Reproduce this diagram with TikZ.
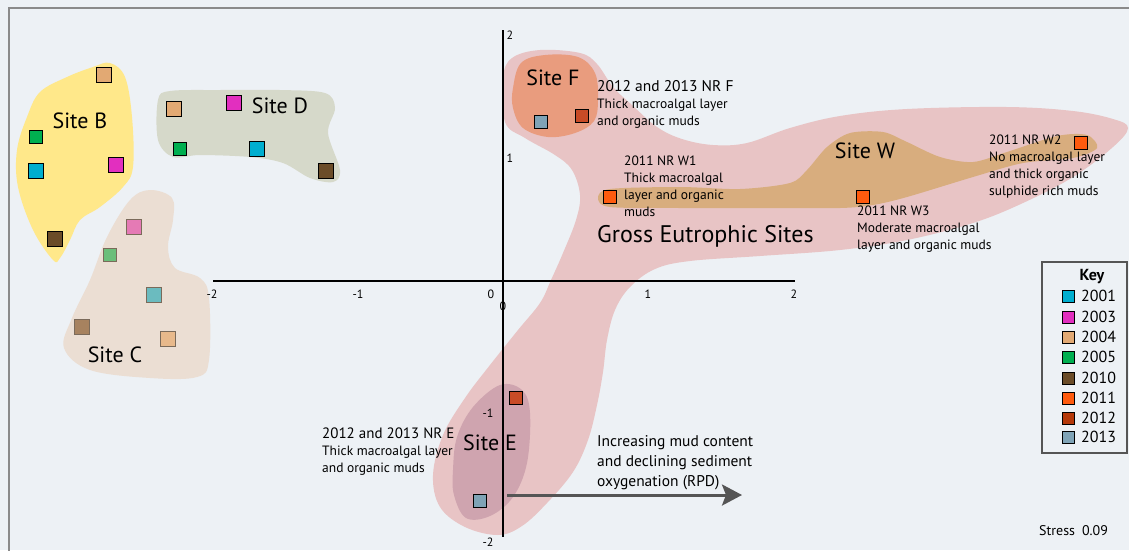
\documentclass[tikz,border=0pt]{standalone}
\usepackage{fontspec}
\setmainfont{PT Sans}
\usetikzlibrary{arrows.meta}
\definecolor{bgc}{HTML}{EDF1F5}
\definecolor{frm}{HTML}{8A8A8A}
\definecolor{blobB}{HTML}{FFE88A}
\definecolor{blobD}{HTML}{D6D9CA}
\definecolor{blobC}{HTML}{EBDED3}
\definecolor{blobG}{HTML}{E8C4C5}
\definecolor{blobF}{HTML}{E99C7E}
\definecolor{blobW}{HTML}{D8AD7E}
\definecolor{blobE}{HTML}{CFA4AF}
\definecolor{cA}{HTML}{00AECF}
\definecolor{cB}{HTML}{E22FBF}
\definecolor{cC}{HTML}{E2A973}
\definecolor{cD}{HTML}{00AF50}
\definecolor{cE}{HTML}{6B4C28}
\definecolor{cF}{HTML}{FF5B0E}
\definecolor{cG}{HTML}{C84B26}
\definecolor{cGk}{HTML}{B5390A}
\definecolor{cH}{HTML}{7FA3B6}
\definecolor{fA}{HTML}{6BBBBF}
\definecolor{fB}{HTML}{E57AB5}
\definecolor{fC}{HTML}{E8B98B}
\definecolor{fD}{HTML}{6BBE7A}
\definecolor{fE}{HTML}{A7825F}
\definecolor{fbord}{HTML}{7A6A5A}
\definecolor{arr}{HTML}{555555}
\tikzset{
  sq/.style={draw=black, line width=1.1pt, minimum size=15pt, inner sep=0pt, outer sep=0pt},
  sqs/.style={sq, minimum size=13pt},
  fsq/.style={draw=fbord, line width=1.1pt, minimum size=15pt, inner sep=0pt, outer sep=0pt},
  ksq/.style={draw=black, line width=0.9pt, minimum size=12pt, inner sep=0pt},
  site/.style={font=\fontsize{22}{24}\selectfont, inner sep=0pt},
  note/.style={font=\fontsize{13.5}{17}\selectfont, align=left, inner sep=0pt, anchor=north west},
  tick/.style={font=\fontsize{12}{14}\selectfont, inner sep=0pt},
  keytxt/.style={font=\fontsize{16}{18}\selectfont, inner sep=0pt, anchor=west}
}
\begin{document}
\begin{tikzpicture}[x=1pt,y=-1pt]
\useasboundingbox (0,0) rectangle (1129,550);
\fill[bgc] (0,0) rectangle (1129,550);
\draw[frm, line width=1.5pt] (9,560) -- (9,8) -- (1140,8);

% Gross eutrophic blob
\fill[blobG] plot[smooth cycle, tension=0.6] coordinates {
 (503,78) (512,58) (540,50) (580,53) (597,64) (613,87) (632,105) (657,127) (682,139) (713,145) (747,143)
 (790,128) (840,116) (907,109) (1007,107) (1073,111) (1113,119) (1128,128) (1113,147)
 (1073,177) (1023,203) (973,223) (907,240) (840,250) (760,256) (690,261) (655,269)
 (630,287) (615,310) (607,340) (603,372) (597,405) (588,440) (573,472) (547,503) (522,526) (498,535)
 (465,527) (440,507) (433,475) (443,435) (465,398) (490,365) (518,330) (540,303)
 (551,280) (563,253) (576,220) (580,195) (572,170) (555,155) (525,138) (505,122)};
% Site F
\fill[blobF] plot[smooth cycle, tension=0.6] coordinates {
 (513,88) (521,63) (545,55) (578,57) (595,73) (598,100) (594,121) (575,133) (548,137) (523,128) (513,108)};
% Site W
\fill[blobW] plot[smooth cycle, tension=0.5] coordinates {
 (598,198) (610,189) (680,187) (740,189) (790,183) (807,170) (827,147) (850,133) (883,132)
 (907,142) (940,157) (973,162) (1007,152) (1057,136) (1087,135) (1097,148) (1073,158)
 (1023,163) (973,177) (907,197) (873,205) (840,208) (760,208) (680,208) (610,207)};
% Site E
\fill[blobE] plot[smooth cycle, tension=0.6] coordinates {
 (500,385) (522,390) (530,413) (527,463) (513,497) (490,516) (466,518) (454,495) (453,470) (457,437) (473,407)};
% Site B
\fill[blobB] plot[smooth cycle, tension=0.6] coordinates {
 (110,63) (125,77) (132,117) (133,167) (123,187) (100,207) (80,220) (70,240) (60,258) (53,260)
 (33,230) (18,187) (17,150) (27,117) (40,92) (67,77) (93,67)};
% Site D
\fill[blobD] plot[smooth cycle, tension=0.55] coordinates {
 (158,100) (170,91) (220,90) (280,90) (325,93) (335,108) (328,133) (340,170) (333,182)
 (310,178) (283,163) (250,157) (200,155) (173,157) (158,140)};
% Site C
\fill[blobC] plot[smooth cycle, tension=0.6] coordinates {
 (150,190) (172,198) (173,220) (168,247) (175,268) (200,278) (209,298) (209,360) (197,377)
 (150,378) (90,370) (64,348) (72,318) (90,280) (107,237) (130,200)};

% axes
\coordinate (xl) at (213,281); \coordinate (xr) at (795,281);
\coordinate (yt) at (503,30); \coordinate (yb) at (503,537);
\draw[black, line width=2.6pt] (xl) -- (xr);
\draw[black, line width=1.4pt] (yt) -- (yb);
\node[tick] (tx1) at (212,294) {-2};
\node[tick] (tx2) at (358,294) {-1};
\node[tick] (tx3) at (491,294) {0};
\node[tick] (tx4) at (648,294) {1};
\node[tick] (tx5) at (794,294) {2};
\node[tick] (ty1) at (510,35) {2};
\node[tick] (ty2) at (510,158) {1};
\node[tick] (ty3) at (503,306) {0};
\node[tick] (ty4) at (488,413) {-1};
\node[tick] (ty5) at (488,542) {-2};

% site labels
\node[site] (lB) at (80,121) {Site B};
\node[site] (lD) at (280,106) {Site D};
\node[site] (lC) at (115,355) {Site C};
\node[site] (lF) at (553,78) {Site F};
\node[site] (lW) at (865,151) {Site W};
\node[site] (lE) at (490,443) {Site E};
\node[site, anchor=west, font=\fontsize{24}{26}\selectfont] (lG) at (597,236) {Gross Eutrophic Sites};

% squares site B
\node[sq, fill=cC] (b1) at (104,75) {};
\node[sqs, fill=cD] (b2) at (36,137) {};
\node[sq, fill=cA] (b3) at (36,171) {};
\node[sq, fill=cB] (b4) at (116,165) {};
\node[sq, fill=cE] (b5) at (55,239) {};
% site D
\node[sq, fill=cC] (d1) at (174,109) {};
\node[sq, fill=cB] (d2) at (234,103) {};
\node[sqs, fill=cD] (d3) at (180,149) {};
\node[sq, fill=cA] (d4) at (257,149) {};
\node[sq, fill=cE] (d5) at (326,171) {};
% site C
\node[fsq, fill=fB] (c1) at (134,227) {};
\node[fsq, fill=fD, minimum size=13pt] (c2) at (110,255) {};
\node[fsq, fill=fA] (c3) at (154,295) {};
\node[fsq, fill=fE] (c4) at (82,327) {};
\node[fsq, fill=fC] (c5) at (168,339) {};
% site F, W, E
\node[sqs, fill=cH] (f1) at (541,122) {};
\node[sqs, fill=cG] (f2) at (582,116) {};
\node[sqs, fill=cF] (w1) at (610,197) {};
\node[sqs, fill=cF] (w3) at (863,197) {};
\node[sqs, fill=cF] (w2) at (1081,143) {};
\node[sqs, fill=cG] (e1) at (516,398) {};
\node[sqs, fill=cH] (e2) at (480,501) {};

% notes
\node[note] (nF) at (597,80) {{\fontsize{15.5}{17}\selectfont 2012 and 2013 NR F}\\Thick macroalgal layer\\and organic muds};
\node[note] (nW1) at (624,156) {2011 NR W1\\Thick macroalgal\\layer and organic\\muds};
\node[note] (nW3) at (857,206) {2011 NR W3\\Moderate macroalgal\\layer and organic muds};
\node[note] (nW2) at (989,135) {2011 NR W2\\No macroalgal layer\\and thick organic\\sulphide rich muds};
\node[note] (nE) at (322,428) {{\fontsize{15}{17}\selectfont 2012 and 2013 NR E}\\Thick macroalgal layer\\and organic muds};
\node[note, font=\fontsize{15.5}{20}\selectfont] (nA) at (597,435) {Increasing mud content\\and declining sediment\\oxygenation (RPD)};

% arrow
\coordinate (a1) at (507,495); \coordinate (a2) at (742,495);
\draw[arr, line width=3pt, -{Stealth[length=20pt, width=21pt, inset=4pt]}] (a1) -- (a2);

% key
\draw[arr, line width=1.2pt] (1042,262) rectangle (1127,453);
\node[font=\fontsize{16}{18}\selectfont\bfseries, inner sep=0pt] (kt) at (1092,277) {Key};
\node[ksq, fill=cA] (k1) at (1068,296) {}; \node[keytxt] (k1t) at (1081,296) {2001};
\node[ksq, fill=cB] (k2) at (1068,317) {}; \node[keytxt] (k2t) at (1081,317) {2003};
\node[ksq, fill=cC] (k3) at (1068,337) {}; \node[keytxt] (k3t) at (1081,337) {2004};
\node[ksq, fill=cD] (k4) at (1068,357) {}; \node[keytxt] (k4t) at (1081,357) {2005};
\node[ksq, fill=cE] (k5) at (1068,378) {}; \node[keytxt] (k5t) at (1081,378) {2010};
\node[ksq, fill=cF] (k6) at (1068,398) {}; \node[keytxt] (k6t) at (1081,398) {2011};
\node[ksq, fill=cGk] (k7) at (1068,418) {}; \node[keytxt] (k7t) at (1081,418) {2012};
\node[ksq, fill=cH] (k8) at (1068,437) {}; \node[keytxt] (k8t) at (1081,437) {2013};

\node[font=\fontsize{14}{16}\selectfont, inner sep=0pt, anchor=west] (st) at (1039,531) {Stress\enspace 0.09};
\end{tikzpicture}
\end{document}
